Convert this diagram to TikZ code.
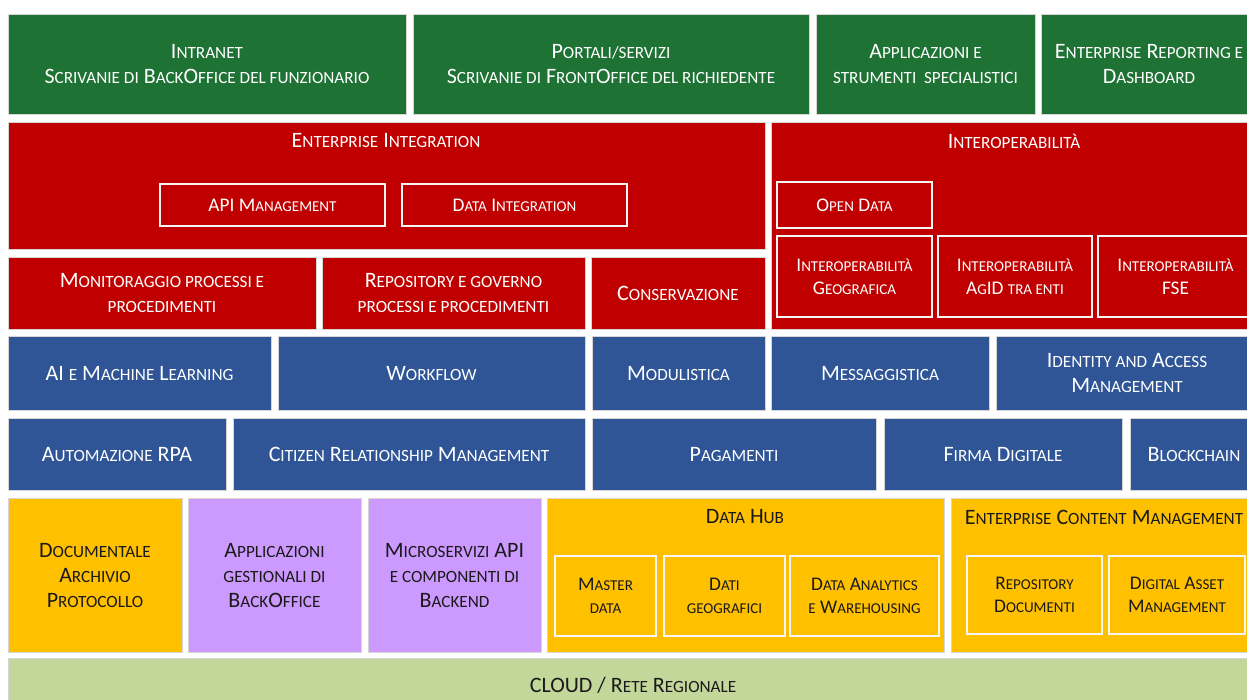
\documentclass[tikz,border=0pt]{standalone}
\usepackage{fontspec}
\setmainfont{Carlito}
\newfontfamily\scf[Scale=0.78]{Carlito}
\newcommand\lc[1]{{\scf\MakeUppercase{#1}}}
\definecolor{cgreen}{HTML}{1E7234}
\definecolor{cred}{HTML}{C00000}
\definecolor{cblue}{HTML}{2F5597}
\definecolor{corange}{HTML}{FFC000}
\definecolor{cpurple}{HTML}{CC99FF}
\definecolor{ccloud}{HTML}{C4D79B}
\definecolor{boxline}{HTML}{D6D6D6}
\definecolor{darktext}{HTML}{1A1A1A}
\tikzset{
  box/.style={draw=boxline, line width=0.8pt, inner sep=0pt, outer sep=0pt, text depth=0pt,
    align=center, anchor=north west, text=white, font=\fontsize{22}{25}\selectfont},
  gbox/.style={box, fill=cgreen},
  rbox/.style={box, fill=cred},
  bbox/.style={box, fill=cblue},
  obox/.style={box, fill=corange, text=darktext},
  pbox/.style={box, fill=cpurple, text=darktext},
  cbox/.style={box, fill=ccloud, text=darktext},
  ibox/.style={box, draw=white!92!gray, line width=1.2pt, font=\fontsize{19.3}{22.5}\selectfont},
  iboxd/.style={ibox, text=darktext},
  ttl/.style={inner sep=0pt, text=white, font=\fontsize{22}{25}\selectfont},
  ttld/.style={ttl, text=darktext},
}
\newcommand\bx[7]{\node[#6, minimum width={(#4-#2)*1pt}, minimum height={(#5-#3)*1pt}] (#1) at (#2,#3) {#7};}
\begin{document}
\begin{tikzpicture}[x=1pt,y=-1pt]
\useasboundingbox (0,0) rectangle (1247,700);
\clip (0,0) rectangle (1247,700);
% green row
\bx{g1}{8}{14}{406}{114}{gbox}{I\lc{ntranet}\\S\lc{crivanie di} B\lc{ack}O\lc{ffice del funzionario}}
\bx{g2}{413}{14}{809}{114}{gbox}{P\lc{ortali/servizi}\\S\lc{crivanie di} F\lc{ront}O\lc{ffice del richiedente}}
\bx{g3}{816}{14}{1035}{114}{gbox}{A\lc{pplicazioni e}\\\lc{strumenti\ \ specialistici}}
\bx{g4}{1041}{14}{1257}{114}{gbox}{E\lc{nterprise} R\lc{eporting e}\\D\lc{ashboard}}
% red rows
\bx{ei}{8}{122}{765}{249}{rbox}{}
\node[ttl] (eiT) at (386,141) {E\lc{nterprise} I\lc{ntegration}};
\bx{api}{160}{184}{385}{226}{ibox}{API M\lc{anagement}}
\bx{di}{402}{184}{627}{226}{ibox}{D\lc{ata} I\lc{ntegration}}
\bx{io}{771}{122}{1257}{329}{rbox}{}
\node[ttl] (ioT) at (1014,141) {I\lc{nteroperabilità}};
\bx{od}{777}{182}{932}{228}{ibox}{O\lc{pen} D\lc{ata}}
\bx{ig}{777}{236}{932}{317}{ibox}{I\lc{nteroperabilità}\\G\lc{eografica}}
\bx{ia}{938}{236}{1092}{317}{ibox}{I\lc{nteroperabilità}\\A\lc{g}ID \lc{tra enti}}
\bx{if}{1098}{236}{1253}{317}{ibox}{I\lc{nteroperabilità}\\FSE}
\bx{mon}{8}{257}{316}{329}{rbox}{M\lc{onitoraggio processi e}\\\lc{procedimenti}}
\bx{rep}{322}{257}{585}{329}{rbox}{R\lc{epository e governo}\\\lc{processi e procedimenti}}
\bx{con}{591}{257}{765}{329}{rbox}{C\lc{onservazione}}
% blue rows
\bx{ai}{8}{336}{271}{410}{bbox}{AI \lc{e} M\lc{achine} L\lc{earning}}
\bx{wf}{278}{336}{585}{410}{bbox}{W\lc{orkflow}}
\bx{mod}{592}{336}{765}{410}{bbox}{M\lc{odulistica}}
\bx{msg}{771}{336}{989}{410}{bbox}{M\lc{essaggistica}}
\bx{iam}{996}{336}{1258}{410}{bbox}{I\lc{dentity and} A\lc{ccess}\\M\lc{anagement}}
\bx{rpa}{8}{418}{226}{490}{bbox}{A\lc{utomazione} RPA}
\bx{crm}{233}{418}{585}{490}{bbox}{C\lc{itizen} R\lc{elationship} M\lc{anagement}}
\bx{pag}{592}{418}{876}{490}{bbox}{P\lc{agamenti}}
\bx{fd}{884}{418}{1122}{490}{bbox}{F\lc{irma} D\lc{igitale}}
\bx{bc}{1130}{418}{1258}{490}{bbox}{B\lc{lockchain}}
% bottom row
\bx{doc}{8}{498}{182}{652}{obox}{D\lc{ocumentale}\\A\lc{rchivio}\\P\lc{rotocollo}}
\bx{app}{188}{498}{361}{652}{pbox}{A\lc{pplicazioni}\\\lc{gestionali di}\\B\lc{ack}O\lc{ffice}}
\bx{ms}{368}{498}{541}{652}{pbox}{M\lc{icroservizi} API\\\lc{e componenti di}\\B\lc{ackend}}
\bx{dh}{547}{498}{944}{652}{obox}{}
\node[ttld] (dhT) at (745,517) {D\lc{ata} H\lc{ub}};
\bx{md}{555}{556}{656}{636}{iboxd}{M\lc{aster}\\\lc{data}}
\bx{dg}{664}{556}{785}{636}{iboxd}{D\lc{ati}\\\lc{geografici}}
\bx{da}{790}{556}{939}{636}{iboxd}{D\lc{ata} A\lc{nalytics}\\\lc{e} W\lc{arehousing}}
\bx{ecm}{951}{498}{1257}{652}{obox}{}
\node[ttld] (ecmT) at (1104,517) {E\lc{nterprise} C\lc{ontent} M\lc{anagement}};
\bx{rd}{967}{556}{1102}{634}{iboxd}{R\lc{epository}\\D\lc{ocumenti}}
\bx{dam}{1109}{556}{1245}{634}{iboxd}{D\lc{igital} A\lc{sset}\\M\lc{anagement}}
% cloud
\bx{cloud}{8}{658}{1258}{712}{cbox}{}
\node[ttld] (cloudT) at (633,685) {CLOUD / R\lc{ete} R\lc{egionale}};
\end{tikzpicture}
\end{document}
